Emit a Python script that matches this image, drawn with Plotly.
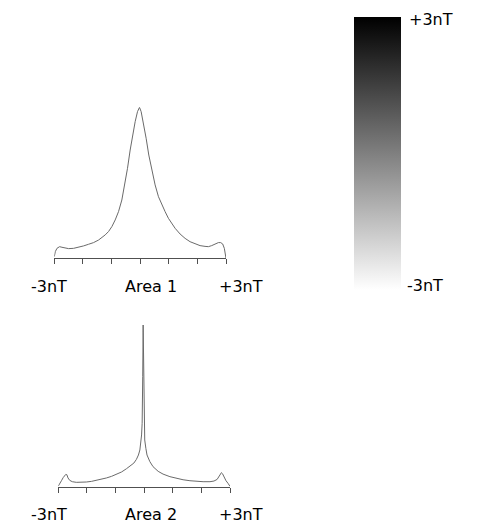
import plotly.graph_objects as go

# ---- Data ----
area1_x = [-3.0, -2.965, -2.907, -2.814, -2.733, -2.616, -2.5, -2.326, -2.151, -1.977,
           -1.802, -1.628, -1.453, -1.337, -1.221, -1.105, -0.988, -0.872, -0.756, -0.64,
           -0.523, -0.442, -0.349, -0.256, -0.174, -0.093, -0.023, 0.035, 0.116, 0.209,
           0.302, 0.407, 0.523, 0.64, 0.756, 0.872, 0.988, 1.105, 1.221, 1.395,
           1.57, 1.744, 1.919, 2.093, 2.267, 2.384, 2.5, 2.616, 2.733, 2.814,
           2.884, 2.942, 2.977, 3.0]
area1_y = [1.1, 4.4, 6.6, 7.7, 7.3, 6.6, 6.4, 6.6, 7.3, 8.2,
           9.3, 10.4, 12.1, 13.7, 15.5, 17.7, 21.0, 25.4, 30.9, 38.6,
           49.7, 59.6, 71.7, 82.8, 90.5, 97.1, 100.0, 97.1, 89.4, 79.5,
           68.4, 58.5, 48.6, 40.8, 35.3, 30.9, 26.5, 23.2, 19.9, 16.1,
           13.2, 11.0, 9.5, 8.4, 7.9, 7.7, 8.4, 9.5, 10.4, 10.4,
           9.5, 6.6, 3.3, 0.0]

area2_x = [-3.0, -2.95, -2.89, -2.83, -2.77, -2.74, -2.70, -2.66, -2.60, -2.51,
           -2.37, -2.19, -2.02, -1.84, -1.67, -1.49, -1.32, -1.14, -0.97, -0.79,
           -0.62, -0.48, -0.36, -0.27, -0.20, -0.15, -0.12, -0.09, -0.07, -0.06,
           -0.05, -0.035, -0.02, -0.01, 0.0, 0.02, 0.06, 0.10, 0.20, 0.31,
           0.49, 0.66, 0.90, 1.13, 1.36, 1.60, 1.83, 2.06, 2.30, 2.44,
           2.55, 2.62, 2.67, 2.70, 2.74, 2.79, 2.86, 2.93, 3.0]
area2_y = [0.4, 1.6, 3.7, 5.6, 7.0, 7.6, 7.4, 5.4, 3.9, 3.1,
           2.7, 2.7, 2.9, 3.3, 3.9, 4.5, 5.4, 6.4, 7.6, 9.1,
           11.1, 12.8, 14.6, 16.9, 19.6, 22.7, 26.8, 32.0, 39.2, 47.4,
           68.0, 100.0, 84.5, 47.4, 37.1, 28.9, 23.7, 19.6, 15.5, 12.4,
           9.5, 7.8, 6.2, 5.2, 4.3, 3.7, 3.3, 3.1, 3.1, 3.5,
           4.5, 6.2, 7.8, 8.7, 8.0, 5.8, 3.7, 2.1, 0.2]

tick_values = [-3, -2, -1, 0, 1, 2, 3]
axis_labels_1 = ["-3nT", "Area 1", "+3nT"]
axis_labels_2 = ["-3nT", "Area 2", "+3nT"]
scale_range = [-3, 3]
scale_labels = ["+3nT", "-3nT"]

# ---- Styling ----
W, H = 493, 526
FONT = dict(family="DejaVu Sans", size=16, color="#000000")
LINE_COLOR = "#6a6a6a"
AXIS_COLOR = "#505050"


def px_x(p):
    return p / W


def px_y(p):
    return 1 - p / H


fig = go.Figure()

fig.add_trace(go.Scatter(x=area1_x, y=area1_y, mode="lines",
                         line=dict(color=LINE_COLOR, width=1),
                         xaxis="x", yaxis="y", hoverinfo="skip", showlegend=False))
fig.add_trace(go.Scatter(x=area2_x, y=area2_y, mode="lines",
                         line=dict(color=LINE_COLOR, width=1),
                         xaxis="x2", yaxis="y2", hoverinfo="skip", showlegend=False))

# colour scale bar (invisible heatmap supplying the colorbar)
fig.add_trace(go.Heatmap(
    z=[scale_range], zmin=scale_range[0], zmax=scale_range[1],
    colorscale=[[0, "#ffffff"], [1, "#000000"]],
    opacity=0, hoverinfo="skip", xaxis="x3", yaxis="y3",
    showscale=True,
    colorbar=dict(
        x=px_x(354), xanchor="left", xpad=0,
        y=px_y(16.7), yanchor="top", ypad=0,
        len=(290 - 16.7) / H, lenmode="fraction",
        thickness=47, thicknessmode="pixels",
        outlinewidth=0, ticks="", showticklabels=False,
    ),
))

common_x = dict(range=[-3, 3], tickvals=tick_values, showticklabels=False,
                ticks="outside", ticklen=5, tickwidth=1, tickcolor=AXIS_COLOR,
                showline=True, linecolor=AXIS_COLOR, linewidth=1,
                showgrid=False, zeroline=False, fixedrange=True)
common_y = dict(range=[0, 100], visible=False, showgrid=False, zeroline=False,
                fixedrange=True)

annotations = []
label_x_px = [48.7, 151.3, 241]
for labels, ypx in ((axis_labels_1, 286), (axis_labels_2, 514)):
    for t, xp in zip(labels, label_x_px):
        annotations.append(dict(text=t, x=px_x(xp), y=px_y(ypx), xref="paper", yref="paper",
                                xanchor="center", yanchor="middle", showarrow=False, font=FONT))
for t, (xp, yp) in zip(scale_labels, [(407, 19), (405, 285)]):
    annotations.append(dict(text=t, x=px_x(xp), y=px_y(yp), xref="paper", yref="paper",
                            xanchor="left", yanchor="middle", showarrow=False, font=FONT))

fig.update_layout(
    width=W, height=H,
    margin=dict(l=0, r=0, t=0, b=0),
    paper_bgcolor="white", plot_bgcolor="white",
    font=FONT,
    xaxis=dict(domain=[px_x(54.3), px_x(226)], anchor="y", **common_x),
    yaxis=dict(domain=[px_y(258.3), px_y(107.3)], anchor="x", **common_y),
    xaxis2=dict(domain=[px_x(58.3), px_x(230)], anchor="y2", **common_x),
    yaxis2=dict(domain=[px_y(486.7), px_y(325)], anchor="x2", **common_y),
    xaxis3=dict(domain=[0.95, 1.0], anchor="y3", visible=False),
    yaxis3=dict(domain=[0.95, 1.0], anchor="x3", visible=False),
    annotations=annotations,
    showlegend=False,
)

fig.write_html(
    "out.html",
    config={"displayModeBar": False},
    post_script="document.body.style.margin='0';document.body.style.overflow='hidden';",
)
